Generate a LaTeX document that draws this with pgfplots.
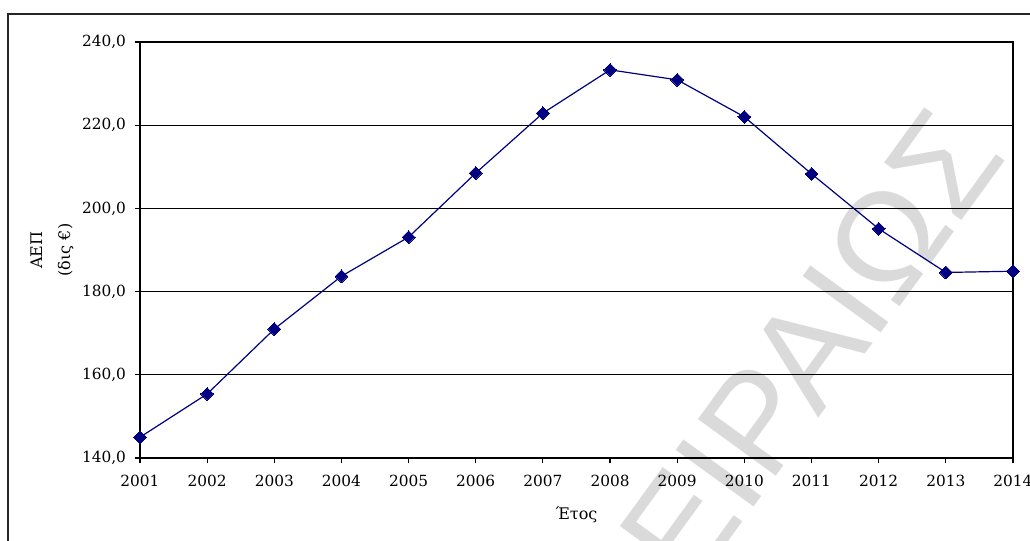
\documentclass[border=0pt]{standalone}
\usepackage{fontspec}
\setmainfont{DejaVu Serif}
\newfontfamily\wmfont{Liberation Sans}
\usepackage{pgfplots}
\pgfplotsset{compat=1.18}
\definecolor{navy}{RGB}{0,0,128}
\definecolor{wm}{RGB}{218,218,218}
\pgfplotstableread{
year gdp
2001 145.0
2002 155.4
2003 171.0
2004 183.7
2005 193.1
2006 208.5
2007 222.9
2008 233.3
2009 230.9
2010 222.0
2011 208.3
2012 195.1
2013 184.6
2014 184.9
}\gdpdata
\begin{document}
\begin{tikzpicture}
\useasboundingbox (0pt,0pt) rectangle (772.5pt,405.75pt);
% watermark centre at pixel (781,387)
\node[rotate=54, text=wm, font=\wmfont\fontsize{105}{105}\selectfont, inner sep=0pt] at (585.75pt,115.5pt) {ΠΕΙΡΑΙΩΣ};
\draw[line width=1.4pt, black!85] (6pt,395.25pt) rectangle (790pt,-20pt);
\begin{axis}[
  at={(105pt,62.25pt)}, anchor=south west,
  scale only axis, width=654.75pt, height=312pt,
  xmin=2001, xmax=2014, ymin=140, ymax=240,
  xtick={2001,2002,...,2014}, ytick={140,160,...,240},
  tick pos=left, tick align=outside,
  major tick length=4pt,
  every tick/.style={black, line width=0.9pt},
  ymajorgrids, grid style={black, line width=0.9pt},
  axis line style={black, line width=1.1pt},
  /pgf/number format/assume math mode=true,
  tick label style={font=\fontsize{11.5}{13}\selectfont},
  x tick label style={yshift=-5pt, /pgf/number format/.cd, 1000 sep={}},
  y tick label style={xshift=-3pt, /pgf/number format/.cd, fixed, fixed zerofill, precision=1, use comma},
  xlabel={Έτος},
  ylabel={ΑΕΠ\\[6pt](δις €)},
  label style={font=\fontsize{12}{15}\selectfont},
  xlabel style={at={(axis description cs:0.5,-0.137)}, anchor=center},
  ylabel style={align=center, at={(axis description cs:-0.1008,0.5)}, anchor=center},
  clip=false,
]
\addplot[color=navy, line width=0.9pt, mark=square*, mark size=3.4pt, mark options={rotate=45, fill=navy, draw=navy, line width=0pt}] table[x=year, y=gdp] {\gdpdata};
\end{axis}
\end{tikzpicture}
\end{document}
